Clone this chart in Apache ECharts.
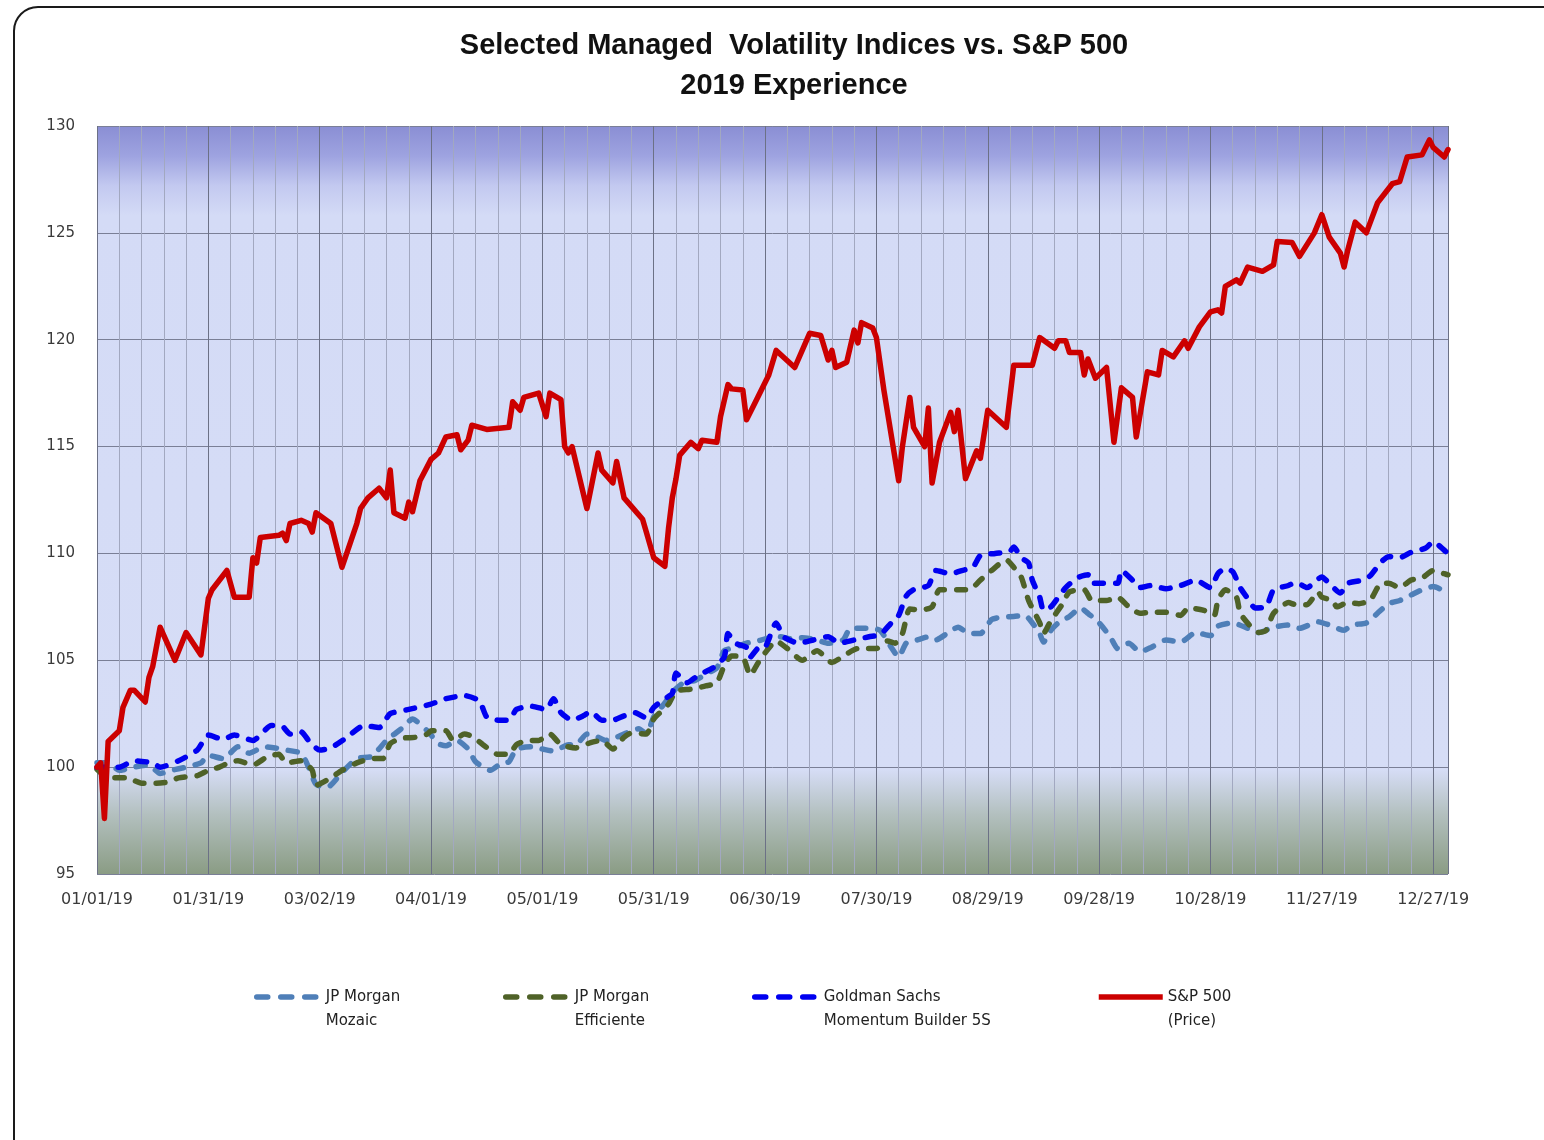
<!DOCTYPE html>
<html>
<head>
<meta charset="utf-8">
<title>Selected Managed Volatility Indices vs. S&amp;P 500</title>
<script src="https://cdn.jsdelivr.net/npm/echarts@6/dist/echarts.min.js"></script>
<style>
  html, body { margin: 0; padding: 0; background: #fff; }
  #main { width: 1544px; height: 1140px; }
</style>
</head>
<body>
<div id="main"></div>
<script>
// index levels, 12/31/18 = 100, dates are MM/DD in 2019
const spxDates = ['01/01','01/02','01/03','01/04','01/07','01/08','01/10','01/11','01/14','01/15','01/16','01/18','01/22','01/25','01/29','01/31',
  '02/01','02/05','02/07','02/11','02/12','02/13','02/14','02/19','02/20','02/21','02/22','02/25','02/27','02/28',
  '03/01','03/05','03/08','03/12','03/13','03/15','03/18','03/20','03/21','03/22','03/25','03/26','03/27','03/29',
  '04/01','04/03','04/05','04/08','04/09','04/11','04/12','04/16','04/22','04/23','04/25','04/26','04/30',
  '05/02','05/03','05/06','05/07','05/08','05/09','05/13','05/16','05/17','05/20','05/21','05/23','05/24','05/28','05/29','05/31',
  '06/03','06/04','06/05','06/06','06/07','06/10','06/12','06/13','06/17','06/18','06/20','06/21','06/24','06/25','06/28',
  '07/01','07/03','07/08','07/11','07/12','07/15','07/17','07/18','07/19','07/22','07/24','07/25','07/26','07/29','07/30',
  '08/01','08/05','08/06','08/08','08/09','08/12','08/13','08/14','08/16','08/19','08/20','08/21','08/23','08/26','08/27','08/29',
  '09/03','09/05','09/10','09/12','09/16','09/17','09/19','09/20','09/23','09/24','09/25','09/27','09/30',
  '10/02','10/04','10/07','10/08','10/11','10/14','10/15','10/18','10/21','10/22','10/25','10/28','10/30','10/31',
  '11/01','11/04','11/05','11/07','11/11','11/14','11/15','11/19','11/21','11/25','11/27','11/29',
  '12/02','12/03','12/04','12/06','12/09','12/12','12/16','12/18','12/20','12/24','12/26','12/27','12/30','12/31'];
const spxValues = [100.0,100.2,97.6,101.2,101.7,102.8,103.6,103.6,103.05,104.2,104.7,106.55,105.0,106.3,105.25,107.9,
  108.3,109.2,107.95,107.95,109.8,109.55,110.75,110.85,110.95,110.6,111.4,111.55,111.4,111.0,
  111.9,111.4,109.35,111.4,112.1,112.6,113.05,112.6,113.9,111.9,111.65,112.4,111.95,113.4,
  114.4,114.7,115.45,115.55,114.85,115.3,116.0,115.8,115.9,117.1,116.7,117.3,117.5,
  116.4,117.5,117.2,115.0,114.7,115.0,112.1,114.7,113.9,113.3,114.3,112.6,112.4,111.6,111.0,109.8,
  109.4,111.2,112.6,113.5,114.6,115.2,114.9,115.3,115.2,116.4,117.9,117.7,117.65,116.25,117.3,
  118.35,119.5,118.7,119.9,120.3,120.2,119.05,119.5,118.7,118.95,120.45,119.85,120.8,120.55,120.1,
  117.65,113.4,115.0,117.3,115.9,115.0,116.8,113.3,115.2,116.6,115.7,116.7,113.5,114.8,114.45,116.7,
  115.9,118.8,118.8,120.1,119.6,119.95,119.95,119.4,119.4,118.35,119.1,118.2,118.7,
  115.2,117.75,117.3,115.45,118.5,118.35,119.5,119.2,119.95,119.6,120.6,121.3,121.4,121.25,
  122.5,122.8,122.65,123.4,123.2,123.5,124.6,124.55,123.9,125.0,125.85,124.8,
  124.05,123.4,124.2,125.5,125.0,126.4,127.3,127.4,128.55,128.65,129.35,129.0,128.55,128.9];

const gsDates = ['01/01','01/07','01/11','01/16','01/18','01/23','01/28','01/31','02/04','02/07','02/12','02/17','02/20','02/22','02/25','02/27',
  '03/02','03/05','03/09','03/14','03/18','03/21','03/26','04/01','04/05','04/10','04/14','04/16','04/19','04/22','04/24','04/28',
  '05/02','05/04','05/06','05/09','05/12','05/14','05/17','05/20','05/23','05/26','05/29','05/31',
  '06/03','06/05','06/06','06/09','06/12','06/16','06/19','06/20','06/22','06/25','06/26','06/28','06/30',
  '07/03','07/05','07/09','07/13','07/17','07/20','07/24','07/28','07/31',
  '08/03','08/05','08/07','08/09','08/13','08/15','08/19','08/22','08/25','08/27','08/31',
  '09/04','09/05','09/07','09/09','09/10','09/12','09/13','09/15','09/17','09/19','09/22','09/25','09/26','09/29',
  '10/03','10/04','10/07','10/09','10/12','10/16','10/20','10/24','10/28','10/30',
  '11/01','11/03','11/05','11/07','11/09','11/12','11/14','11/18','11/20','11/23','11/27','11/29',
  '12/02','12/04','12/08','12/10','12/13','12/15','12/18','12/21','12/25','12/27','12/30','12/31'];
const gsValues = [100.0,100.0,100.3,100.2,100.0,100.3,100.8,101.5,101.3,101.5,101.25,101.95,101.9,101.55,101.65,101.25,
  100.8,100.9,101.35,101.95,101.85,102.5,102.7,102.95,103.2,103.35,103.1,102.35,102.2,102.2,102.7,102.85,
  102.7,103.2,102.55,102.2,102.4,102.6,102.2,102.2,102.4,102.55,102.3,102.8,
  103.2,103.45,104.4,103.95,104.3,104.65,105.15,106.25,105.8,105.6,105.15,105.55,105.6,
  106.75,106.1,105.8,105.95,106.1,105.8,105.95,106.1,106.2,
  106.75,107.1,108.0,108.3,108.5,109.2,109.05,109.2,109.35,109.9,110.0,
  110.1,110.3,109.8,109.55,108.75,107.95,107.35,107.5,107.95,108.4,108.85,109.0,108.6,108.6,
  108.6,109.2,108.75,108.4,108.5,108.35,108.5,108.75,108.4,109.05,
  109.3,109.15,108.4,107.9,107.45,107.5,108.3,108.5,108.65,108.4,108.9,108.6,
  108.15,108.6,108.75,108.95,109.6,109.85,109.8,110.05,110.25,110.55,110.15,110.0];

const effDates = ['01/01','01/04','01/09','01/13','01/17','01/20','01/23','01/28','01/31','02/03','02/06','02/08','02/12','02/16','02/19','02/21','02/25','02/28',
  '03/01','03/05','03/08','03/12','03/16','03/19','03/21','03/24','03/28','03/31',
  '04/01','04/05','04/07','04/10','04/12','04/15','04/19','04/22','04/24','04/27','04/30',
  '05/03','05/06','05/10','05/14','05/17','05/20','05/23','05/25','05/29','05/31',
  '06/04','06/06','06/10','06/14','06/17','06/19','06/21','06/24','06/26','06/28','06/30',
  '07/03','07/06','07/10','07/14','07/18','07/22','07/25','07/30',
  '08/02','08/04','08/06','08/08','08/11','08/14','08/16','08/21','08/24','08/27','08/30',
  '09/03','09/05','09/07','09/09','09/12','09/13','09/15','09/18','09/20','09/24','09/26','09/30',
  '10/03','10/06','10/09','10/12','10/16','10/20','10/22','10/26','10/29','10/30',
  '11/01','11/04','11/05','11/08','11/10','11/12','11/14','11/18','11/20','11/23','11/26','11/27','11/30',
  '12/01','12/04','12/07','12/10','12/13','12/15','12/18','12/21','12/24','12/27','12/30','12/31'];
const effValues = [99.9,99.5,99.5,99.25,99.25,99.3,99.5,99.6,99.85,100.0,100.25,100.3,100.1,100.5,100.6,100.2,100.3,99.85,
  99.15,99.5,99.85,100.2,100.4,100.4,101.1,101.35,101.4,101.55,
  101.7,101.7,101.25,101.55,101.45,101.05,100.6,100.6,101.05,101.25,101.25,
  101.55,101.05,100.9,101.15,101.25,100.85,101.4,101.6,101.55,102.25,
  102.95,103.55,103.65,103.8,103.95,104.75,105.2,105.15,104.3,104.85,105.35,
  105.9,105.55,105.0,105.45,104.9,105.3,105.55,105.55,
  105.9,105.8,106.25,107.4,107.35,107.5,108.3,108.3,108.3,108.75,109.2,
  109.7,109.35,108.9,107.8,106.75,106.25,106.85,107.6,108.2,108.3,107.8,107.8,
  107.95,107.5,107.2,107.25,107.25,107.1,107.45,107.35,107.1,107.8,
  108.3,107.95,107.2,106.55,106.3,106.4,107.2,107.7,107.6,107.6,108.2,107.95,107.8,
  107.5,107.7,107.65,107.8,108.6,108.6,108.4,108.75,108.85,109.2,109.05,109.0];

const mozDates = ['01/01','01/04','01/07','01/11','01/15','01/18','01/21','01/25','01/29','01/31','02/04','02/08','02/11','02/15','02/18','02/21','02/25','02/27',
  '03/01','03/04','03/08','03/12','03/16','03/20','03/24','03/27','03/31',
  '04/03','04/05','04/08','04/11','04/13','04/17','04/20','04/22','04/24','04/28',
  '05/01','05/04','05/08','05/10','05/13','05/16','05/18','05/21','05/25','05/27','05/29','05/31',
  '06/03','06/05','06/08','06/11','06/14','06/17','06/19','06/22','06/25','06/28','06/30',
  '07/04','07/07','07/10','07/14','07/17','07/21','07/23','07/25','07/28','07/31',
  '08/03','08/05','08/07','08/10','08/13','08/15','08/18','08/21','08/24','08/27','08/30',
  '09/01','09/05','09/08','09/10','09/12','09/13','09/15','09/17','09/20','09/23','09/25','09/28',
  '10/01','10/03','10/06','10/09','10/12','10/16','10/20','10/24','10/28','10/30',
  '11/03','11/07','11/10','11/14','11/18','11/21','11/26','11/29',
  '12/03','12/05','12/09','12/12','12/15','12/18','12/21','12/24','12/27','12/31'];
const mozValues = [100.2,100.2,99.85,100.0,100.1,99.7,99.85,100.0,100.2,100.55,100.4,100.95,100.65,100.95,100.9,100.8,100.65,100.0,
  99.2,99.05,99.75,100.4,100.5,101.25,101.8,102.25,101.7,
  101.1,101.0,101.25,100.85,100.25,99.85,100.2,100.25,100.85,100.95,
  100.85,100.75,101.05,101.05,101.55,101.4,101.25,101.4,101.7,101.8,101.55,102.35,
  103.0,103.5,103.95,104.05,104.35,104.65,105.45,105.6,105.8,105.9,106.0,
  106.1,106.0,106.05,105.95,105.8,105.95,106.5,106.5,106.5,106.4,
  105.6,105.15,105.8,105.95,106.1,105.95,106.25,106.55,106.25,106.25,106.9,
  107.0,107.05,107.1,106.75,106.25,105.85,106.4,106.75,107.05,107.45,107.2,106.75,
  106.1,105.55,105.8,105.4,105.6,105.95,105.85,106.3,106.15,106.6,
  106.75,106.5,106.3,106.55,106.65,106.5,106.8,106.65,
  106.4,106.65,106.75,107.2,107.65,107.8,108.05,108.3,108.45,108.15];

const seriesNames = ['JP Morgan\nMozaic', 'JP Morgan\nEfficiente', 'Goldman Sachs\nMomentum Builder 5S', 'S&P 500\n(Price)'];
const yTicks = [95, 130, 5];

const DAY = 86400000;
const Y0 = Date.UTC(2019, 0, 1);
function dayOf(s) {
  const p = s.split('/');
  return (Date.UTC(2019, +p[0] - 1, +p[1]) - Y0) / DAY;
}
function pts(dates, vals) {
  return dates.map((s, i) => [dayOf(s), vals[i]]);
}
function two(n) { return (n < 10 ? '0' : '') + n; }
function dateLabel(v) {
  const t = new Date(Y0 + v * DAY);
  return two(t.getUTCMonth() + 1) + '/' + two(t.getUTCDate()) + '/19';
}

const chart = echarts.init(document.getElementById('main'));

const legendLeft = [254, 503, 752, 1096];
const dashed = [9, 12];
const lineW = 5.5;

chart.setOption({
  backgroundColor: '#ffffff',
  animation: false,
  title: {
    text: 'Selected Managed  Volatility Indices vs. S&P 500\n2019 Experience',
    left: 789,
    top: 21,
    textAlign: 'center',
    textStyle: {
      fontFamily: '"Liberation Sans", Arial, sans-serif',
      fontWeight: 'bold',
      fontSize: 29,
      lineHeight: 40,
      color: '#111'
    }
  },
  graphic: [{
    type: 'rect',
    silent: true,
    z: -10,
    shape: { x: 14, y: 7, width: 1650, height: 1250, r: 24 },
    style: { fill: 'none', stroke: '#1a1a1a', lineWidth: 2 }
  }],
  grid: {
    left: 97, right: 96, top: 126, bottom: 266,
    show: true,
    borderWidth: 0,
    backgroundColor: new echarts.graphic.LinearGradient(0, 0, 0, 1, [
      { offset: 0, color: '#8a8ed4' },
      { offset: 0.04, color: '#9ea3e0' },
      { offset: 0.08, color: '#c3c9f0' },
      { offset: 0.12, color: '#d4dbf6' },
      { offset: 0.86, color: '#d6ddf6' },
      { offset: 0.92, color: '#b3c0bf' },
      { offset: 1, color: '#8a9c84' }
    ])
  },
  // one legend per entry so each sits where the original puts it;
  // the leading blank line keeps the marker level with the first text line
  legend: seriesNames.map((n, i) => ({
    data: [n],
    left: legendLeft[i],
    top: 961,
    padding: 0,
    itemWidth: 64,
    itemHeight: 14,
    itemGap: 0,
    selectedMode: false,
    formatter: name => ' \n' + name,
    itemStyle: { color: 'rgba(0,0,0,0)', opacity: 0, borderWidth: 0 },
    lineStyle: i === 3
      ? { width: lineW, cap: 'butt' }
      : { width: lineW, cap: 'round', type: [11, 13] },
    textStyle: {
      fontFamily: '"DejaVu Sans", sans-serif',
      fontSize: 15,
      color: '#222',
      lineHeight: 24
    }
  })),
  xAxis: {
    type: 'value',
    min: 0,
    max: 364,
    interval: 30,
    axisLine: { show: false },
    axisTick: { show: false },
    minorTick: { show: false, splitNumber: 5 },
    axisLabel: {
      formatter: dateLabel,
      showMaxLabel: false,
      margin: 18,
      fontFamily: '"DejaVu Sans", sans-serif',
      fontSize: 16,
      color: '#3a3a3a'
    },
    splitLine: { show: true, lineStyle: { color: '#6c7186', width: 1 } },
    minorSplitLine: { show: true, lineStyle: { color: '#a2a8c0', width: 1 } }
  },
  yAxis: {
    type: 'value',
    min: yTicks[0],
    max: yTicks[1],
    interval: yTicks[2],
    axisLine: { show: false },
    axisTick: { show: false },
    axisLabel: {
      margin: 22,
      fontFamily: '"DejaVu Sans", sans-serif',
      fontSize: 15,
      color: '#3a3a3a'
    },
    splitLine: { show: true, lineStyle: { color: '#7a7f96', width: 1 } }
  },
  series: [
    {
      name: seriesNames[0], type: 'line', symbol: 'none', smooth: 0.2,
      data: pts(mozDates, mozValues),
      lineStyle: { color: '#4f7fb8', width: lineW, type: dashed, cap: 'round', join: 'round' },
      itemStyle: { color: '#4f7fb8' }
    },
    {
      name: seriesNames[1], type: 'line', symbol: 'none', smooth: 0.2,
      data: pts(effDates, effValues),
      lineStyle: { color: '#4f6228', width: lineW, type: dashed, cap: 'round', join: 'round' },
      itemStyle: { color: '#4f6228' }
    },
    {
      name: seriesNames[2], type: 'line', symbol: 'none', smooth: 0.2,
      data: pts(gsDates, gsValues),
      lineStyle: { color: '#0000f0', width: lineW, type: dashed, cap: 'round', join: 'round' },
      itemStyle: { color: '#0000f0' }
    },
    {
      name: seriesNames[3], type: 'line', symbol: 'none',
      data: pts(spxDates, spxValues),
      lineStyle: { color: '#cc0000', width: lineW, join: 'round', cap: 'round' },
      itemStyle: { color: '#cc0000' }
    }
  ]
});
</script>
</body>
</html>
